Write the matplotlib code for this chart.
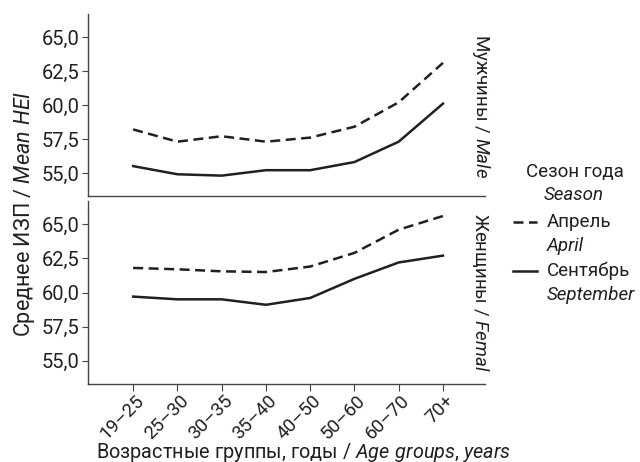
import matplotlib
matplotlib.use("Agg")
import matplotlib.pyplot as plt
from matplotlib.lines import Line2D
from matplotlib.transforms import ScaledTranslation

# data
age_groups = ["19–25", "25–30", "30–35", "35–40", "40–50", "50–60", "60–70", "70+"]
male_april = [58.2, 57.3, 57.7, 57.3, 57.6, 58.4, 60.2, 63.1]
male_september = [55.5, 54.9, 54.8, 55.2, 55.2, 55.8, 57.3, 60.1]
female_april = [61.8, 61.7, 61.55, 61.5, 61.9, 62.9, 64.6, 65.6]
female_september = [59.7, 59.5, 59.5, 59.1, 59.6, 61.0, 62.2, 62.7]
y_ticks = [55.0, 57.5, 60.0, 62.5, 65.0]

font = "Roboto"
plt.rcParams["font.family"] = [font, "DejaVu Sans"]
plt.rcParams["mathtext.fontset"] = "custom"
plt.rcParams["mathtext.rm"] = font
plt.rcParams["mathtext.it"] = font + ":italic"

ink = "#231f20"
dash = (4, 2.2)
W, H = 640, 462
fig = plt.figure(figsize=(6.4, 4.62), dpi=100)


def box(l, t, r, b):
    return [l / W, (H - b) / H, (r - l) / W, (b - t) / H]


ax1 = fig.add_axes(box(88, 14, 485, 196))
ax2 = fig.add_axes(box(88, 201, 485, 384))
x = list(range(len(age_groups)))

panels = [(ax1, male_april, male_september, r"Мужчины / $\it{Male}$", 106),
          (ax2, female_april, female_september, r"Женщины / $\it{Femal}$", 292)]
for ax, apr, sep, strip, sy in panels:
    ax.plot(x, apr, color=ink, lw=1.8, dashes=dash)
    ax.plot(x, sep, color=ink, lw=1.8)
    ax.set_xlim(-1.02, 7.95)
    ax.set_ylim(53.3, 66.7)
    ax.set_yticks(y_ticks)
    ax.set_yticklabels([f"{v:.1f}".replace(".", ",") for v in y_ticks])
    for s in ["top", "right"]:
        ax.spines[s].set_visible(False)
    for s in ["left", "bottom"]:
        ax.spines[s].set_color("#444444")
        ax.spines[s].set_linewidth(1.0)
    ax.tick_params(axis="y", labelsize=14.5, colors="#444444", labelcolor=ink, length=4, pad=2)
    fig.text(481 / W, 1 - sy / H, strip, rotation=-90, ha="center", va="center",
             fontsize=13.5, color=ink)

ax1.set_xticks([])
ax2.set_xticks(x)
ax2.set_xticklabels(age_groups, rotation=45, ha="right", va="center_baseline", rotation_mode="anchor")
ax2.tick_params(axis="x", labelsize=13.5, colors="#444444", labelcolor=ink, length=5, pad=4)
shift = ScaledTranslation(5 / 72, 0, fig.dpi_scale_trans)
for lab in ax2.get_xticklabels():
    lab.set_transform(lab.get_transform() + shift)

fig.text(25 / W, 1 - 214 / H, r"Среднее ИЗП / $\it{Mean\ HEI}$", rotation=90, ha="center", va="center",
         fontsize=15.5, color=ink)
fig.text(303 / W, 1 - 452 / H, r"Возрастные группы, годы / $\it{Age\ groups}$, $\it{years}$", ha="center",
         va="center", fontsize=14.3, color=ink)

# legend drawn by hand
fig.text(575 / W, 1 - 172 / H, "Сезон года", ha="center", va="center", fontsize=13.5, color=ink)
fig.text(574 / W, 1 - 195 / H, "Season", ha="center", va="center", fontsize=13.5, color=ink, style="italic")
legend_rows = [("Апрель", "April", dash, 222), ("Сентябрь", "September", None, 271)]
for ru, en, dd, yy in legend_rows:
    ln = Line2D([513 / W, 537 / W], [1 - yy / H] * 2, transform=fig.transFigure, color=ink, lw=1.8)
    if dd:
        ln.set_dashes(dd)
    fig.add_artist(ln)
    fig.text(547 / W, 1 - yy / H, ru, ha="left", va="center", fontsize=13.5, color=ink)
    fig.text(547 / W, 1 - (yy + 24) / H, en, ha="left", va="center", fontsize=13.5, color=ink, style="italic")

fig.savefig("out.png", dpi=100)
